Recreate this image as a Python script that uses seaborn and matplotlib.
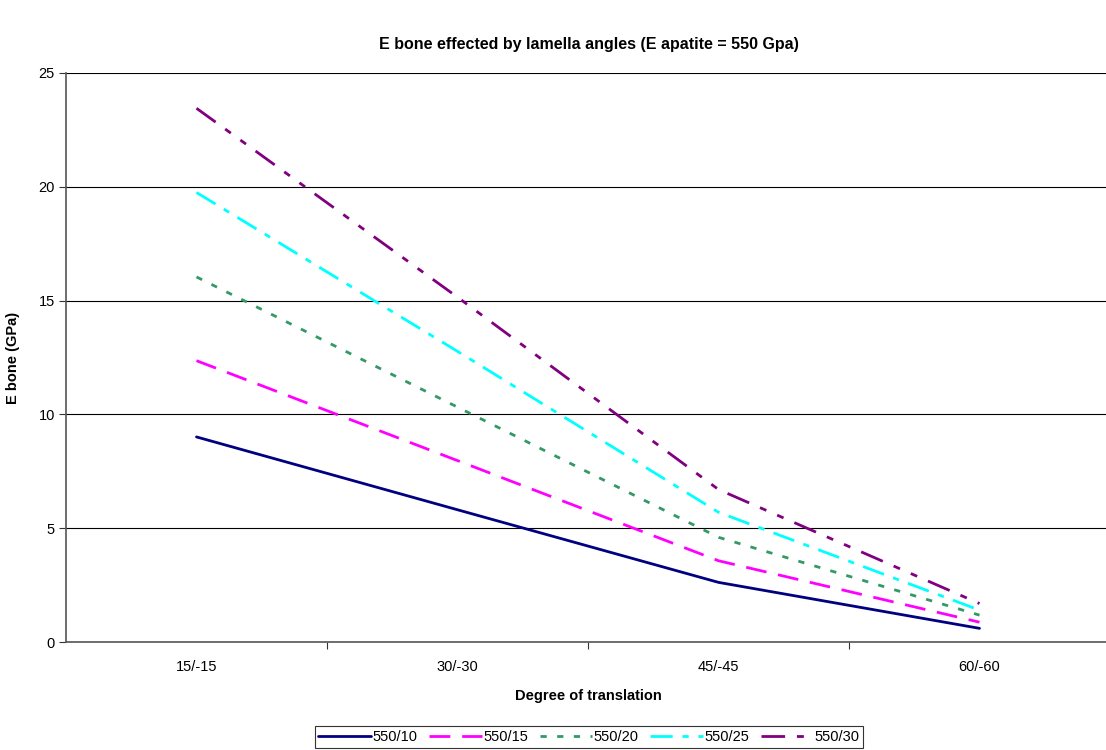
import matplotlib
matplotlib.use("Agg")
import matplotlib.pyplot as plt
import seaborn as sns
import pandas as pd

categories = ["15/-15", "30/-30", "45/-45", "60/-60"]
series_names = ["550/10", "550/15", "550/20", "550/25", "550/30"]
s_550_10 = [9.01, 5.81, 2.62, 0.60]
s_550_15 = [12.36, 7.97, 3.57, 0.87]
s_550_20 = [16.04, 10.32, 4.60, 1.18]
s_550_25 = [19.75, 12.77, 5.70, 1.40]
s_550_30 = [23.45, 15.15, 6.70, 1.69]
y_ticks = [0, 5, 10, 15, 20, 25]

sns.set_theme(style="white")
plt.rcParams["font.family"] = ["Liberation Sans", "DejaVu Sans"]
plt.rcParams["lines.scale_dashes"] = False
plt.rcParams["lines.dash_capstyle"] = "butt"
plt.rcParams["text.color"] = "black"
plt.rcParams["axes.labelcolor"] = "black"
plt.rcParams["xtick.color"] = "black"
plt.rcParams["ytick.color"] = "black"

all_values = [s_550_10, s_550_15, s_550_20, s_550_25, s_550_30]
rows = []
for name, vals in zip(series_names, all_values):
    for i, (c, v) in enumerate(zip(categories, vals)):
        rows.append({"pos": i, "cat": c, "series": name, "value": v})
df = pd.DataFrame(rows)

palette = {"550/10": "#000080", "550/15": "#FF00FF", "550/20": "#339966",
           "550/25": "#00FFFF", "550/30": "#800080"}
dashes = {"550/10": "",
          "550/15": (15, 8.5),
          "550/20": (4.5, 7.5),
          "550/25": (16, 7, 4.5, 7),
          "550/30": (17, 8.5, 5, 8.5, 5, 8.5)}

fig = plt.figure(figsize=(11.06, 7.5), dpi=100)
ax = fig.add_axes([66 / 1106, (750 - 642) / 750, 1044 / 1106, 569 / 750])

sns.lineplot(data=df, x="pos", y="value", hue="series", style="series",
             palette=palette, dashes=dashes, linewidth=2.0, ax=ax,
             hue_order=series_names, style_order=series_names, legend=True)

ax.set_xlim(-0.5, 3.5)
ax.set_ylim(0, 25)
ax.set_yticks(y_ticks)
ax.set_yticklabels([str(t) for t in y_ticks], fontsize=10.5)
ax.set_xticks(range(len(categories)))
ax.set_xticklabels(categories, fontsize=10.5)
ax.set_xticks([0.5, 1.5, 2.5], minor=True)
ax.tick_params(axis="x", which="major", length=0, pad=13)
ax.tick_params(axis="x", which="minor", length=5, width=0.8, color="#333333", direction="out", bottom=True)
ax.tick_params(axis="y", which="major", length=5, width=0.8, color="#333333", direction="out", left=True, pad=3)
ax.yaxis.grid(True, color="black", linewidth=0.8)
ax.xaxis.grid(False)
for s in ["top", "right"]:
    ax.spines[s].set_visible(False)
for s in ["left", "bottom"]:
    ax.spines[s].set_color("#555555")
    ax.spines[s].set_linewidth(1.2)

ax.set_xlabel("Degree of translation", fontsize=10.5, fontweight="bold", labelpad=11)
ax.set_ylabel("E bone (GPa)", fontsize=10.5, fontweight="bold", labelpad=13)
fig.text(0.5325, 1 - 45 / 750, "E bone effected by lamella angles (E apatite = 550 Gpa)",
         ha="center", va="center", fontsize=11.5, fontweight="bold")

handles, labels = ax.get_legend_handles_labels()
ax.legend_.remove()
leg = fig.legend(handles, labels, loc="center", bbox_to_anchor=(589 / 1106, 1 - 737 / 750),
                 ncol=5, frameon=True, fontsize=10.5, handlelength=3.6, handletextpad=0.1,
                 columnspacing=0.8, borderpad=0.25, fancybox=False, edgecolor="black")
leg.get_frame().set_linewidth(0.8)

fig.savefig("out.png", dpi=100)
